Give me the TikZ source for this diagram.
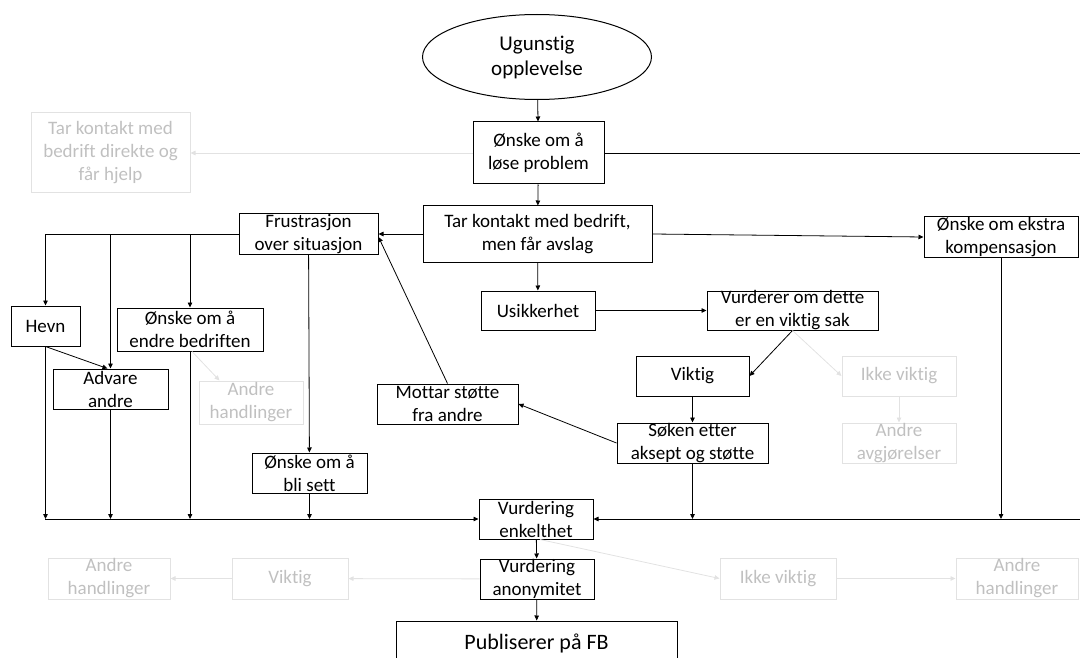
\documentclass[tikz,border=0pt]{standalone}
\usepackage{fontspec}
\setmainfont{Carlito}[Ligatures={NoCommon,NoContextual},RawFeature={-liga;-clig;-calt;-dlig}]
\usetikzlibrary{arrows.meta,shapes.geometric}
\definecolor{fadetxt}{RGB}{192,192,192}
\definecolor{fadeline}{RGB}{226,226,226}
\tikzset{
  box/.style={draw, line width=1pt, inner xsep=0pt, inner ysep=-3pt, align=center, minimum height=40pt,
    font=\fontsize{19}{23}\selectfont},
  fadebox/.style={box, draw=fadeline, text=fadetxt},
  link/.style={->, line width=0.8pt},
  fadelink/.style={link, draw=fadeline},
}
\begin{document}
\begin{tikzpicture}[x=1pt,y=-1pt,>={Triangle[length=5pt,width=4.5pt]}]
\useasboundingbox (0,0) rectangle (1080,658);
% top of the flow
\node[ellipse, draw, line width=1pt, inner sep=0pt, minimum width=229pt, minimum height=85pt,
  align=center, font=\fontsize{21}{25}\selectfont] (start) at (537,57) {Ugunstig\\opplevelse};
\node[box, minimum width=131pt, minimum height=62pt] (solve) at (538.5,153) {Ønske om å\\løse problem};
\node[fadebox, minimum width=159pt, minimum height=80pt] (helped) at (110.5,153)
  {Tar kontakt med\\bedrift direkte og\\får hjelp};
\node[box, minimum width=229pt, minimum height=56pt] (refused) at (537.5,234)
  {Tar kontakt med bedrift,\\men får avslag};
\node[box, minimum width=139pt] (frust) at (308.5,234) {Frustrasjon\\over situasjon};
\node[box, minimum width=154pt] (extra) at (1001,237) {Ønske om ekstra\\kompensasjon};
\node[box, minimum width=114pt, minimum height=39pt] (unsure) at (538,310.5) {Usikkerhet};
\node[box, minimum width=171pt, minimum height=39pt] (judge) at (792.5,310.5) {Vurderer om dette\\er en viktig sak};
% left branch
\node[box, minimum width=69pt] (revenge) at (45.5,326) {Hevn};
\node[box, minimum width=146pt, minimum height=43pt] (change) at (190,329.5) {Ønske om å\\endre bedriften};
\node[box, minimum width=115pt] (warn) at (110.5,389) {Advare\\andre};
\node[fadebox, minimum width=104pt, minimum height=43pt] (otherA) at (251,402.5) {Andre\\handlinger};
\node[box, minimum width=115pt] (seen) at (309.5,473) {Ønske om å\\bli sett};
\node[box, minimum width=141pt] (support) at (447.5,404) {Mottar støtte\\fra andre};
% right branch
\node[box, minimum width=113pt] (imp) at (692.5,376) {Viktig};
\node[fadebox, minimum width=114pt] (notimp) at (899,376) {Ikke viktig};
\node[fadebox, minimum width=114pt] (otherdec) at (899,443) {Andre\\avgjørelser};
\node[box, minimum width=151pt] (seek) at (692.5,443) {Søken etter\\aksept og støtte};
% bottom of the flow
\node[box, minimum width=114pt] (simple) at (536,519) {Vurdering\\enkelthet};
\node[box, minimum width=114pt] (anon) at (537,579) {Vurdering\\anonymitet};
\node[box, minimum width=281pt, minimum height=44pt, font=\fontsize{22}{26}\selectfont] (publish) at (536.5,643)
  {Publiserer på FB};
\node[fadebox, minimum width=122pt, minimum height=41pt] (otherL) at (109,578.5) {Andre\\handlinger};
\node[fadebox, minimum width=116pt, minimum height=41pt] (impL) at (290,578.5) {Viktig};
\node[fadebox, minimum width=116pt, minimum height=41pt] (notimpR) at (778,578.5) {Ikke viktig};
\node[fadebox, minimum width=122pt, minimum height=41pt] (otherR) at (1017,578.5) {Andre\\handlinger};
\coordinate (edgeT) at (1080,153);
\coordinate (edgeB) at (1080,519);
\coordinate (jL) at (45,519);
% connectors
\draw[link] (start) -- (solve);
\draw[fadelink] (solve) -- (helped);
\draw[line width=0.8pt] (solve.east) -- (edgeT);
\draw[link] (solve) -- (refused);
\draw[link] (refused) -- (unsure);
\draw[link] (refused) -- (frust);
\draw[link] (refused.east) -- (extra.west);
\draw[link] (frust.west) -| (revenge.north);
\draw[link] (frust.west) -| (warn.north);
\draw[link] (frust.west) -| (change.north);
\draw[link] (frust) -- (seen);
\draw[link] (revenge.south) -- ([xshift=-3pt]warn.north);
\draw[fadelink] ([xshift=2pt]change.south) -- ([xshift=21pt]otherA.north west);
\draw[link] (support.north) -- ([yshift=-3pt]frust.east);
\draw[link] (unsure) -- (judge);
\draw[link] (judge.south) -- (imp.east);
\draw[fadelink] (judge.south) -- (notimp.west);
\draw[fadelink] (notimp) -- (otherdec);
\draw[link] (imp) -- (seek);
\draw[link] (seek.west) -- (support.east);
% collecting line
\draw[link] (revenge.south) -- (revenge.south |- jL);
\draw[link] (warn.south) -- (warn.south |- jL);
\draw[link] (change.south) -- (change.south |- jL);
\draw[link] (seen.south) -- (seen.south |- jL);
\draw[link] (seek.south) -- (seek.south |- jL);
\draw[link] (extra.south) -- (extra.south |- jL);
\draw[link] (jL) -- (simple.west);
\draw[link] (edgeB) -- (simple.east);
\draw[link] (simple) -- (anon);
\draw[link] (anon) -- (publish);
\draw[fadelink] (anon) -- (impL);
\draw[fadelink] (impL) -- (otherL);
\draw[fadelink] ([xshift=4pt]simple.south) -- (notimpR.west);
\draw[fadelink] (notimpR) -- (otherR);
\end{tikzpicture}
\end{document}
